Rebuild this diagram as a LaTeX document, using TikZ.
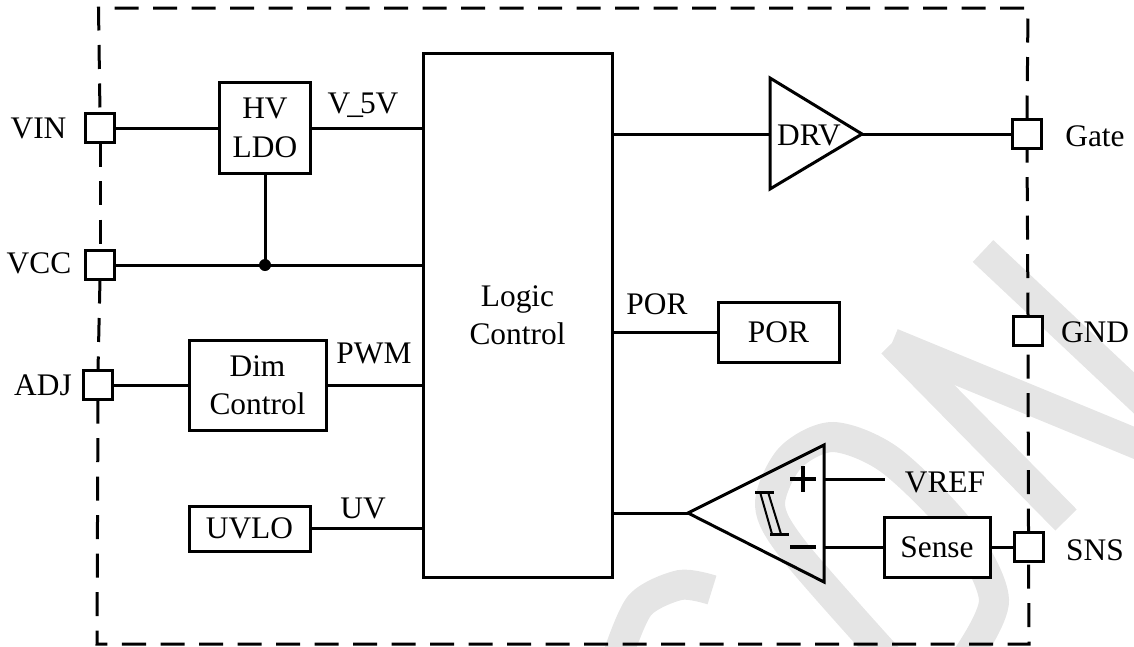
\documentclass[tikz,border=0pt]{standalone}
\usepackage{fontspec}
\setmainfont{Liberation Serif}
\usetikzlibrary{positioning, calc}

\definecolor{markgray}{HTML}{E5E5E5}

\tikzset{
    wire/.style={line width=3pt},
    edge/.style={line width=3pt, dash pattern=on 24pt off 14.5pt},
    block/.style={draw, line width=3pt, fill=white, inner sep=0pt, outer sep=0pt, align=center},
    pin/.style={draw, line width=3pt, fill=white, inner sep=0pt, outer sep=0pt, minimum width=29pt, minimum height=29pt},
    tag/.style={inner sep=0pt},
    stroke/.style={draw=markgray, line width=30pt}
}

\begin{document}
\begin{tikzpicture}[x=1pt, y=-1pt, font=\fontsize{31.4}{38.5}\selectfont]

    \useasboundingbox (0,0) rectangle (1134,646);

    % watermark
    \draw[stroke] plot[smooth] coordinates {(712,590) (680,585) (640,605) (618,655)};
    \draw[stroke] plot[smooth] coordinates {(890,660) (795,552) (770,505) (790,458) (833,437) (890,460) (960,530) (994,600) (965,660)};
    \draw[stroke] (892,343) -- (1066,520);
    \draw[stroke] (892,343) -- (1200,470);
    \draw[stroke] (983,251) -- (1200,455);

    % pins
    \node[pin] (vin) at (100,128) {};
    \node[pin] (vcc) at (100,265) {};
    \node[pin] (adj) at (98,385) {};
    \node[pin] (gatepin) at (1027,134) {};
    \node[pin] (gndpin) at (1028,331) {};
    \node[pin] (snspin) at (1028.5,547) {};

    % dashed outline
    \coordinate (tl) at (98.5,8);
    \coordinate (tr) at (1028,8);
    \coordinate (bl) at (97,644);
    \coordinate (br) at (1029,644);
    \draw[edge] (gatepin.north) -- (tr) -- (tl) -- (vin.north);
    \draw[edge] (vin.south) -- (vcc.north);
    \draw[edge] (vcc.south) -- (adj.north);
    \draw[edge] (adj.south) -- (bl) -- (br) -- (snspin.south);
    \draw[edge] (gndpin.north) -- (gatepin.south);
    \draw[edge] (snspin.north) -- (gndpin.south);

    % blocks
    \node[block, minimum width=189pt, minimum height=524pt] (logic) at (517.5,315) {Logic\\Control};
    \node[block, minimum width=91pt, minimum height=91pt] (ldo) at (265,128) {HV\\LDO};
    \node[block, minimum width=137pt, minimum height=90pt] (dim) at (257.5,385) {Dim\\Control};
    \node[block, minimum width=121pt, minimum height=45pt] (uvlo) at (249.5,528.5) {UVLO};
    \node[block, minimum width=121pt, minimum height=60pt] (por) at (778.5,332) {POR};
    \node[block, minimum width=106pt, minimum height=60pt] (sense) at (937,547) {Sense};

    % driver
    \coordinate (drvtop) at (770,78);
    \coordinate (drvbot) at (770,189);
    \coordinate (drvtip) at (862,134);
    \draw[wire, line join=miter] (drvtop) -- (drvtip) -- (drvbot) -- cycle;
    \node[tag] (drv) at (809,135) {DRV};

    % comparator
    \coordinate (cmptop) at (824,445);
    \coordinate (cmpbot) at (824,582);
    \coordinate (cmptip) at (688,513);
    \draw[wire, line join=miter] (cmptop) -- (cmptip) -- (cmpbot) -- cycle;
    \draw[line width=4pt] (790,479) -- (816,479);
    \draw[line width=4pt] (803,466) -- (803,492);
    \draw[line width=4pt] (790,547) -- (816,547);
    \draw[wire] (755,492) -- (774,492);
    \draw[wire] (770,534) -- (789,534);
    \draw[line width=2pt] (760,492) -- (772,534);
    \draw[line width=2pt] (768,492) -- (781,534);

    % wires
    \draw[wire] (vin.east) -- (ldo.west);
    \draw[wire] (ldo.east) -- (ldo.east -| logic.west);
    \draw[wire] (vcc.east) -- (vcc.east -| logic.west);
    \coordinate (tap) at (ldo.south |- vcc.east);
    \draw[wire] (ldo.south) -- (tap);
    \fill (tap) circle (6pt);
    \draw[wire] (adj.east) -- (dim.west);
    \draw[wire] (dim.east) -- (dim.east -| logic.west);
    \draw[wire] (uvlo.east) -- (uvlo.east -| logic.west);
    \draw[wire] (por.west -| logic.east) -- (por.west);
    \draw[wire] (drvtop |- drvtip) -- (drvtip -| logic.east);
    \draw[wire] (drvtip) -- (drvtip -| gatepin.west);
    \draw[wire] (cmptip) -- (cmptip -| logic.east);
    \coordinate (vrefend) at (885,479);
    \draw[wire] (cmptop |- vrefend) -- (vrefend);
    \draw[wire] (sense.west) -- (sense.west -| cmptop);
    \draw[wire] (sense.east) -- (snspin.west);

    % labels
    \node[tag] (vinlabel) at (38.5,128) {VIN};
    \node[tag] (vcclabel) at (39,263) {VCC};
    \node[tag] (adjlabel) at (43,385) {ADJ};
    \node[tag] (gatelabel) at (1095,136) {Gate};
    \node[tag] (gndlabel) at (1095,332) {GND};
    \node[tag] (snslabel) at (1095,550) {SNS};
    \node[tag] (vreflabel) at (945,482) {VREF};
    \node[tag] (v5label) at (363,105) {V{\kern-3pt\_\kern-3pt}5V};
    \node[tag] (pwmlabel) at (374,353) {PWM};
    \node[tag] (uvlabel) at (363,508) {UV};
    \node[tag] (porlabel) at (657,304) {POR};

\end{tikzpicture}
\end{document}
